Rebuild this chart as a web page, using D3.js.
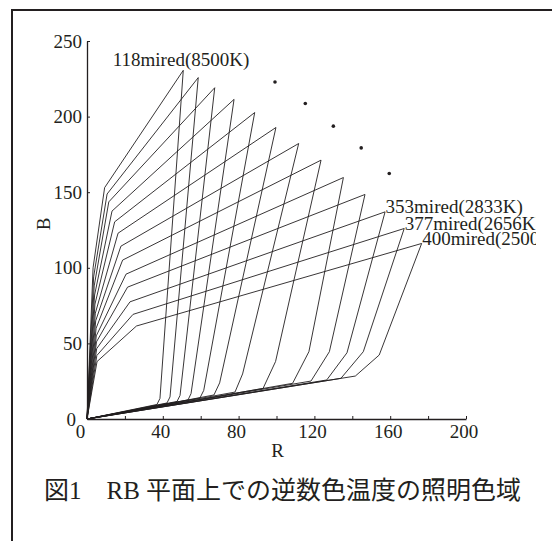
<!DOCTYPE html>
<html>
<head>
<meta charset="utf-8">
<script src="https://cdn.jsdelivr.net/npm/d3@7"></script>
<style>
    body { margin: 0; background: #fff; }
    svg text { font-family: "Liberation Serif", "Noto Sans CJK JP", serif; fill: #231f20; }
</style>
</head>
<body>
<div id="chart"></div>
<script>
// reciprocal colour temperature of each gamut (118 ... 400 mired)
const miredValues = [118, 141.5, 165, 188.5, 212, 235.5, 259, 282.5, 306, 329.5, 353, 376.5, 400];

// corners of each gamut in the RB plane, [R, B], one entry per mired value
const leftFoot   = [[3.2,100],[3.5,94],[3.8,88],[4.0,82],[4.2,76],[4.4,70],[4.6,65],[4.8,60],[4.9,55],[5.0,51],[5.1,46.5],[5.2,42],[5.3,38]];
const leftKnee   = [[9.3,153.0],[10.6,148.8],[11.5,143.6],[13.2,137.5],[14.6,130.4],[16.4,122.9],[17.9,114.3],[18.8,105.1],[20.6,95.8],[21.4,87.2],[22.7,77.5],[24.3,69.2],[26.1,61.5]];
const peakPoint  = [[50.8,230.6],[58.7,225.8],[67.4,219.1],[77.6,211.4],[88.5,202.7],[99.7,192.8],[111.7,182.2],[123.5,171.2],[135.3,159.7],[146.7,148.5],[157.3,137.0],[167.4,126.0],[176.6,116.1]];
const rightKnee  = [[38.5,13.6],[43.8,14.6],[49.1,15.6],[54.9,16.8],[61.6,18.9],[70.0,23.9],[82.1,29.8],[99.5,38.0],[117.1,44.5],[127.9,44.5],[137.2,43.8],[145.8,44.5],[154.2,42.3]];
const bottomFoot = [[36.9,9.6],[42.2,10.6],[47.5,11.6],[53.3,12.6],[59.6,13.9],[67.0,15.9],[78.1,17.8],[92.9,20.2],[108.5,23.6],[118.2,25.1],[126.5,25.8],[134.0,26.9],[141.6,28.4]];

// labelled gamuts and the dots standing for the skipped ones
const labelIndex = [0, 10, 11, 12];
const labelText = ["118mired(8500K)", "353mired(2833K)", "377mired(2656K)", "400mired(2500K)"];
const ellipsisDots = [[99.2,222.9],[115.2,208.7],[130.0,193.7],[144.7,179.3],[159.5,162.4]];

// axes
const xTicks = [0, 20, 40, 60, 80, 100, 120, 140, 160, 180, 200];
const xTickLabels = [0, 40, 80, 120, 160, 200];
const yTicks = [0, 50, 100, 150, 200, 250];
const caption = "図1　RB 平面上での逆数色温度の照明色域";

class rbGamutChart {
    constructor(parentElement) {
        this.parentElement = parentElement;
        this.initVis();
    }
    initVis() {
        let vis = this;
        vis.width = 552;
        vis.height = 541;

        vis.svg = d3.select("#" + vis.parentElement).append("svg")
            .attr("width", vis.width)
            .attr("height", vis.height)
            .style("display", "block");

        vis.svg.append("rect")
            .attr("width", vis.width)
            .attr("height", vis.height)
            .attr("fill", "#fff");

        // frame of the figure (right and bottom edges fall outside the crop)
        vis.svg.append("path")
            .attr("d", "M12," + vis.height + "V10H" + vis.width)
            .attr("fill", "none")
            .attr("stroke", "#231f20")
            .attr("stroke-width", 2);

        vis.svg.append("clipPath").attr("id", "plotClip")
            .append("rect").attr("x", 0).attr("y", 0).attr("width", 536).attr("height", vis.height);

        vis.x = d3.scaleLinear().domain([0, 200]).range([87, 466]);
        vis.y = d3.scaleLinear().domain([0, 250]).range([419, 41]);

        vis.xAxis = d3.axisBottom(vis.x)
            .tickValues(xTicks)
            .tickSize(-3)
            .tickSizeOuter(0)
            .tickPadding(5.5)
            .tickFormat(d => xTickLabels.includes(d) ? d : "");

        vis.yAxis = d3.axisLeft(vis.y)
            .tickValues(yTicks)
            .tickSize(-3)
            .tickSizeOuter(0)
            .tickPadding(5);

        vis.updateVis();
    }
    updateVis() {
        let vis = this;

        let line = d3.line()
            .x(d => vis.x(d[0]))
            .y(d => vis.y(d[1]));

        let gamuts = miredValues.map((m, i) => ({
            mired: m,
            pts: [[0, 0], leftFoot[i], leftKnee[i], peakPoint[i], rightKnee[i], bottomFoot[i], [0, 0]]
        }));

        vis.svg.append("g").attr("class", "gamuts")
            .selectAll("path")
            .data(gamuts)
            .enter().append("path")
            .attr("d", d => line(d.pts))
            .attr("fill", "none")
            .attr("stroke", "#231f20")
            .attr("stroke-width", 0.9)
            .attr("stroke-linejoin", "miter");

        // x axis
        let gx = vis.svg.append("g")
            .attr("class", "x-axis axis")
            .attr("transform", "translate(0," + vis.y(0) + ")")
            .call(vis.xAxis);
        gx.select(".domain").attr("stroke", "#231f20").attr("stroke-width", 1.3);
        gx.selectAll(".tick line").attr("stroke", "#231f20");
        gx.selectAll(".tick text")
            .attr("font-size", 19)
            .attr("font-family", null)
            .attr("fill", "#231f20")
            .attr("dx", d => d === 0 ? -7 : -2.5);

        // y axis
        let gy = vis.svg.append("g")
            .attr("class", "y-axis axis")
            .attr("transform", "translate(" + vis.x(0) + ",0)")
            .call(vis.yAxis);
        gy.select(".domain").attr("stroke", "#231f20").attr("stroke-width", 1.3);
        gy.selectAll(".tick line").attr("stroke", "#231f20");
        gy.selectAll(".tick text")
            .attr("font-size", 19)
            .attr("fill", "#231f20")
            .attr("dx", d => d === 0 ? -6 : 0);
        vis.svg.selectAll(".axis").attr("font-family", null);

        // axis titles
        vis.svg.append("text")
            .attr("x", vis.x(100) + 1)
            .attr("y", 456.5)
            .attr("text-anchor", "middle")
            .attr("font-size", 19)
            .text("R");

        vis.svg.append("text")
            .attr("transform", "translate(49.5,224) rotate(-90)")
            .attr("text-anchor", "middle")
            .attr("font-size", 19)
            .text("B");

        // gamut labels
        let labels = vis.svg.append("g").attr("clip-path", "url(#plotClip)");
        labels.selectAll("text")
            .data(labelIndex)
            .enter().append("text")
            .attr("x", (d, i) => i === 0 ? vis.x(peakPoint[d][0]) - 70.5 : vis.x(peakPoint[d][0]) + 0.5)
            .attr("y", (d, i) => i === 0 ? vis.y(peakPoint[d][1]) - 4 : vis.y(peakPoint[d][1]) + 1.5)
            .attr("font-size", 19)
            .text((d, i) => labelText[i]);

        vis.svg.append("g").selectAll("circle")
            .data(ellipsisDots)
            .enter().append("circle")
            .attr("cx", d => vis.x(d[0]))
            .attr("cy", d => vis.y(d[1]))
            .attr("r", 1.8)
            .attr("fill", "#231f20");

        // caption
        vis.svg.append("text")
            .attr("x", 44)
            .attr("y", 499)
            .attr("font-size", 25)
            .text(caption);
    }
}

new rbGamutChart("chart");
</script>
</body>
</html>
